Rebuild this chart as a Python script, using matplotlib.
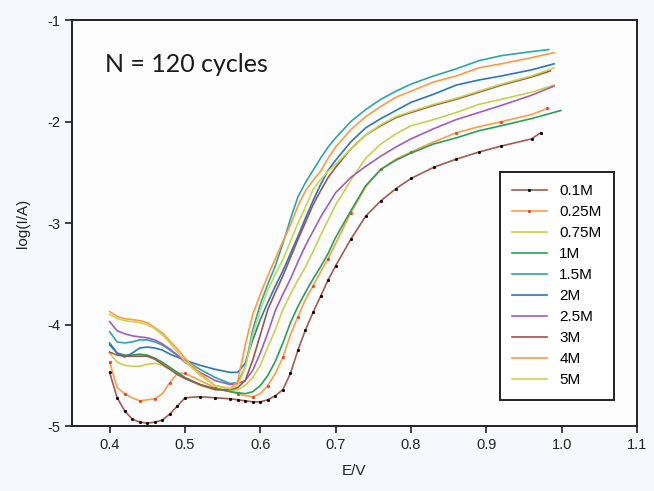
import numpy as np
import matplotlib
matplotlib.use("Agg")
import matplotlib.pyplot as plt

plt.rcParams['font.family'] = ['Liberation Sans', 'DejaVu Sans']
plt.rcParams['axes.unicode_minus'] = False

# shared potential grid (V); each curve also has its own last point
E = [0.40, 0.41, 0.42, 0.43, 0.44, 0.45, 0.46, 0.47, 0.48, 0.49, 0.50,
     0.52, 0.54, 0.56,
     0.57, 0.58, 0.59, 0.60, 0.61, 0.62, 0.63, 0.64, 0.65, 0.66, 0.67, 0.68, 0.69, 0.70,
     0.72, 0.74, 0.76, 0.78, 0.80,
     0.83, 0.86, 0.89, 0.92, 0.96]

labels = ['0.1M', '0.25M', '0.75M', '1M', '1.5M', '2M', '2.5M', '3M', '4M', '5M']
colors = ['#a35a50', '#ff9c45', '#c4d24c', '#2a9f57', '#29a7a8',
          '#2b76be', '#a15cc0', '#a0524c', '#ff9a40', '#c9d650']

logI_01 = [-4.47, -4.72, -4.85, -4.93, -4.96, -4.97, -4.96, -4.94, -4.88, -4.80, -4.72,
           -4.71, -4.72, -4.73,
           -4.74, -4.75, -4.76, -4.76, -4.74, -4.70, -4.64, -4.48, -4.25, -4.05, -3.88, -3.72, -3.56, -3.42,
           -3.16, -2.93, -2.78, -2.66, -2.56,
           -2.45, -2.37, -2.30, -2.24, -2.17]
logI_025 = [-4.37, -4.62, -4.68, -4.72, -4.75, -4.74, -4.73, -4.68, -4.57, -4.48, -4.48,
            -4.55, -4.62, -4.66,
            -4.68, -4.70, -4.71, -4.68, -4.60, -4.48, -4.32, -4.10, -3.92, -3.75, -3.62, -3.48, -3.35, -3.20,
            -2.90, -2.64, -2.47, -2.37, -2.30,
            -2.20, -2.11, -2.05, -2.00, -1.93]
logI_075 = [-4.28, -4.37, -4.40, -4.41, -4.41, -4.39, -4.38, -4.40, -4.44, -4.49, -4.53,
            -4.60, -4.64, -4.65,
            -4.64, -4.60, -4.52, -4.40, -4.22, -4.05, -3.85, -3.70, -3.56, -3.43, -3.28, -3.12, -2.97, -2.82,
            -2.58, -2.36, -2.22, -2.12, -2.04,
            -1.98, -1.91, -1.83, -1.78, -1.71]
logI_1 = [-4.20, -4.28, -4.30, -4.30, -4.29, -4.30, -4.33, -4.37, -4.42, -4.47, -4.52,
          -4.59, -4.63, -4.66,
          -4.67, -4.68, -4.66, -4.60, -4.50, -4.36, -4.18, -3.98, -3.82, -3.68, -3.55, -3.43, -3.30, -3.14,
          -2.88, -2.63, -2.47, -2.38, -2.31,
          -2.22, -2.16, -2.09, -2.04, -1.97]
logI_15 = [-4.07, -4.17, -4.18, -4.17, -4.15, -4.15, -4.17, -4.20, -4.25, -4.30, -4.35,
           -4.44, -4.52, -4.58,
           -4.57, -4.42, -4.05, -3.80, -3.60, -3.42, -3.20, -2.96, -2.74, -2.60, -2.48, -2.36, -2.25, -2.16,
           -2.00, -1.88, -1.78, -1.70, -1.63,
           -1.55, -1.48, -1.40, -1.35, -1.31]
logI_2 = [-4.18, -4.28, -4.32, -4.28, -4.23, -4.22, -4.23, -4.25, -4.29, -4.32, -4.35,
          -4.40, -4.44, -4.47,
          -4.47, -4.38, -4.15, -3.95, -3.78, -3.62, -3.47, -3.30, -3.13, -2.95, -2.78, -2.62, -2.48, -2.38,
          -2.20, -2.06, -1.97, -1.89, -1.81,
          -1.73, -1.64, -1.59, -1.55, -1.49]
logI_25 = [-3.97, -4.06, -4.09, -4.11, -4.12, -4.13, -4.15, -4.19, -4.24, -4.30, -4.37,
           -4.47, -4.55, -4.59,
           -4.58, -4.55, -4.45, -4.28, -4.08, -3.86, -3.70, -3.55, -3.38, -3.22, -3.08, -2.94, -2.82, -2.70,
           -2.55, -2.44, -2.34, -2.25, -2.17,
           -2.07, -1.98, -1.91, -1.84, -1.74]
logI_3 = [-4.27, -4.30, -4.31, -4.31, -4.31, -4.31, -4.34, -4.39, -4.44, -4.49, -4.53,
          -4.59, -4.64, -4.64,
          -4.62, -4.55, -4.35, -4.10, -3.85, -3.68, -3.52, -3.34, -3.16, -2.99, -2.82, -2.68, -2.55, -2.45,
          -2.27, -2.13, -2.04, -1.96, -1.91,
          -1.84, -1.78, -1.71, -1.64, -1.56]
logI_4 = [-3.87, -3.92, -3.94, -3.95, -3.96, -3.98, -4.03, -4.08, -4.16, -4.24, -4.33,
          -4.48, -4.60, -4.63,
          -4.56, -4.20, -3.90, -3.70, -3.52, -3.35, -3.18, -3.02, -2.83, -2.68, -2.58, -2.49, -2.36, -2.25,
          -2.08, -1.95, -1.85, -1.76, -1.70,
          -1.61, -1.55, -1.47, -1.43, -1.37]
logI_5 = [-3.90, -3.94, -3.96, -3.97, -3.98, -4.00, -4.04, -4.10, -4.18, -4.27, -4.36,
          -4.50, -4.60, -4.63,
          -4.60, -4.42, -4.10, -3.86, -3.66, -3.50, -3.36, -3.18, -3.00, -2.84, -2.67, -2.57, -2.49, -2.42,
          -2.27, -2.13, -2.03, -1.95, -1.90,
          -1.83, -1.77, -1.70, -1.63, -1.55]

end_E = [0.972, 0.981, 0.99, 0.999, 0.983, 0.99, 0.99, 0.985, 0.99, 0.99]
end_logI = [-2.11, -1.87, -1.64, -1.89, -1.29, -1.43, -1.65, -1.50, -1.32, -1.47]

series = [logI_01, logI_025, logI_075, logI_1, logI_15,
          logI_2, logI_25, logI_3, logI_4, logI_5]

fig = plt.figure(figsize=(6.54, 4.91), dpi=100, facecolor='#f7f8fb')
ax = fig.add_axes([0.110, 0.132, 0.864, 0.827])
ax.set_facecolor('#fdfdfe')

for i, (lab, col, ys) in enumerate(zip(labels, colors, series)):
    xs = E + [end_E[i]]
    yv = ys + [end_logI[i]]
    if lab == '0.1M':
        ax.plot(xs, yv, color=col, lw=1.2, label=lab, marker='.', ms=2.5,
                mfc='black', mec='black')
    elif lab == '0.25M':
        ax.plot(xs, yv, color=col, lw=1.2, label=lab, marker='.', ms=2.5,
                mfc='#e8412b', mec='#e8412b', markevery=2)
    else:
        ax.plot(xs, yv, color=col, lw=1.2, label=lab)

ax.set_xlim(0.35, 1.1)
ax.set_ylim(-5, -1)
ax.set_xticks([0.4, 0.5, 0.6, 0.7, 0.8, 0.9, 1.0, 1.1])
ax.set_xticklabels(['0.4', '0.5', '0.6', '0.7', '0.8', '0.9', '1.0', '1.1'])
ax.set_yticks([-5, -4, -3, -2, -1])
ax.tick_params(direction='out', length=5, width=1.2, labelsize=10.5,
               colors='#222222', top=False, right=False)
for sp in ax.spines.values():
    sp.set_linewidth(1.4)
    sp.set_color('#222222')

ax.set_xlabel('E/V', fontsize=11, color='#222222', labelpad=9)
ax.set_ylabel('log(I/A)', fontsize=11, color='#222222', labelpad=12)

ax.text(0.058, 0.872, 'N = 120 cycles', transform=ax.transAxes,
        fontsize=18, family=['Lato', 'DejaVu Sans'], color='#1a1a1a')

leg = ax.legend(loc='upper left', bbox_to_anchor=(0.757, 0.626), fontsize=11,
                frameon=True, fancybox=False, handlelength=2.3, labelspacing=0.46,
                borderpad=0.8, handletextpad=0.8, borderaxespad=0)
leg.get_frame().set_edgecolor('#222222')
leg.get_frame().set_linewidth(1.4)
leg.get_frame().set_facecolor('white')
leg.get_frame().set_alpha(1)

fig.savefig('out.png', dpi=100, facecolor=fig.get_facecolor())
